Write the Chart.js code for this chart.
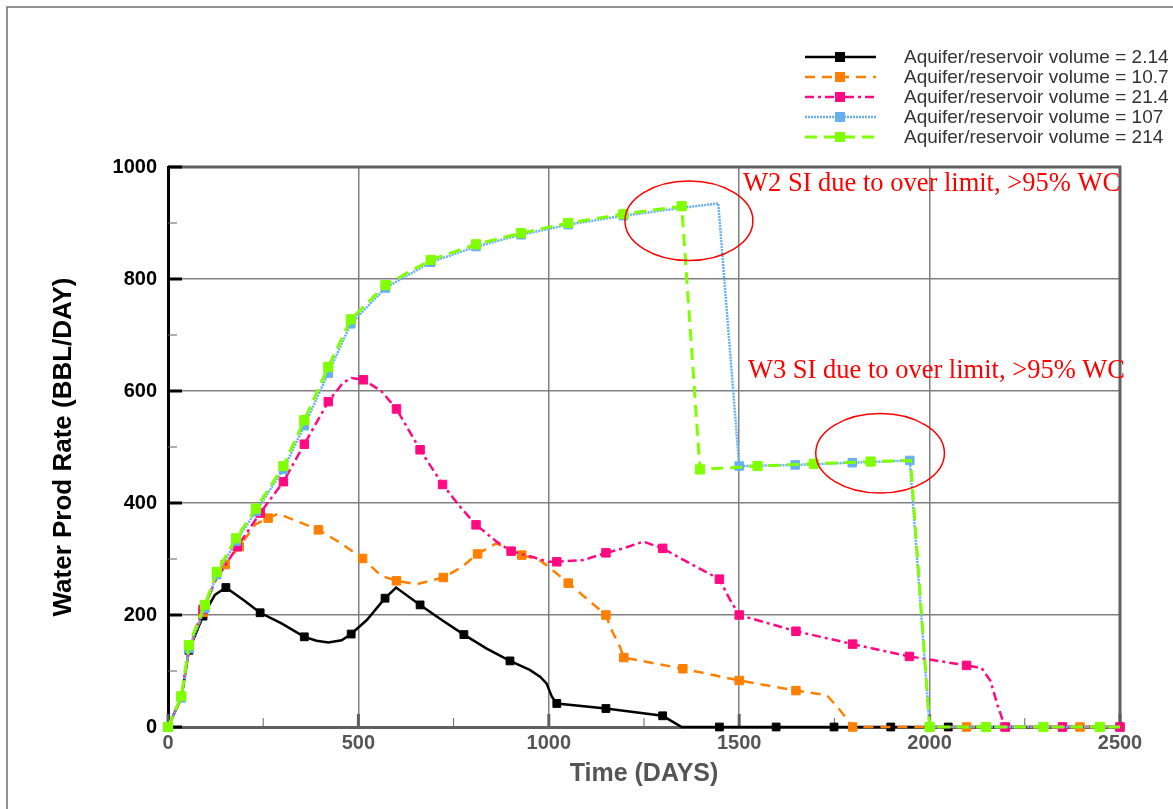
<!DOCTYPE html>
<html>
<head>
<meta charset="utf-8">
<title>Water Prod Rate</title>
<script src="https://cdn.jsdelivr.net/npm/chart.js@4.4.1/dist/chart.umd.min.js"></script>
<style>
  html, body { margin: 0; padding: 0; background: #fff; }
  #wrap { width: 1173px; height: 809px; }
</style>
</head>
<body>
<div id="wrap"><canvas id="rateChart" width="1173" height="809"></canvas></div>
<script>
// water rate (BBL/DAY) vs time (DAYS), one run per aquifer/reservoir volume ratio
// *Marks = days where the simulator printed a symbol

const blackDays  = [0, 35, 55, 92, 123, 152, 200, 242, 298, 358, 390, 421, 456, 481, 522, 570, 599, 662, 719, 777, 837, 898, 950, 977, 994, 1008, 1021, 1150, 1299, 1349, 1448, 1597, 1749, 1898, 2049, 2200, 2349, 2500];
const blackRates = [0, 52, 137, 198, 236, 249, 226, 204, 185, 161, 154, 151, 155, 166, 191, 230, 249, 218, 191, 165, 140, 118, 102, 90, 78, 54, 42, 33, 20, 0, 0, 0, 0, 0, 0, 0, 0, 0];
const blackMarks = [0, 55, 92, 152, 242, 358, 481, 570, 662, 777, 898, 1021, 1150, 1299, 1448, 1597, 1749, 1898, 2049, 2200, 2349, 2500];

const orangeDays  = [0, 35, 55, 92, 125, 150, 187, 230, 263, 290, 330, 395, 450, 511, 560, 600, 653, 723, 770, 813, 862, 929, 976, 994, 1051, 1150, 1165, 1187, 1197, 1352, 1500, 1649, 1730, 1765, 1798, 1948, 2097, 2246, 2395, 2500];
const orangeRates = [0, 52, 138, 205, 262, 290, 322, 362, 373, 381, 370, 352, 330, 301, 270, 261, 255, 267, 285, 309, 328, 307, 298, 289, 257, 200, 173, 143, 124, 104, 83, 65, 57, 30, 0, 0, 0, 0, 0, 0];
const orangeMarks = [92, 150, 187, 263, 395, 511, 600, 723, 813, 929, 1051, 1150, 1197, 1352, 1500, 1649, 1798, 2097, 2395];

const pinkDays  = [0, 35, 55, 92, 125, 182, 242, 303, 358, 421, 460, 482, 513, 560, 600, 662, 721, 771, 809, 863, 901, 960, 999, 1021, 1091, 1150, 1196, 1248, 1299, 1371, 1448, 1476, 1500, 1649, 1798, 1947, 2097, 2137, 2160, 2178, 2198, 2349, 2500];
const pinkRates = [0, 52, 140, 210, 262, 322, 382, 438, 505, 581, 615, 623, 620, 600, 568, 495, 433, 390, 361, 331, 314, 303, 295, 295, 298, 311, 319, 331, 319, 292, 264, 227, 200, 171, 148, 126, 110, 105, 82, 40, 0, 0, 0];
const pinkMarks = [92, 182, 242, 303, 358, 421, 513, 600, 662, 721, 809, 901, 1021, 1150, 1299, 1448, 1500, 1649, 1798, 1947, 2097, 2198, 2349, 2500];

const blueDays  = [0, 35, 55, 97, 128, 179, 231, 303, 358, 421, 480, 571, 690, 809, 927, 1051, 1196, 1349, 1445, 1500, 1647, 1797, 1948, 2000, 2500];
const blueRates = [0, 52, 140, 212, 272, 332, 385, 460, 538, 632, 720, 784, 830, 858, 879, 897, 913, 927, 935, 466, 468, 472, 476, 0, 0];
const blueMarks = [0, 35, 55, 97, 128, 179, 231, 303, 358, 421, 480, 571, 690, 809, 927, 1051, 1196, 1500, 1647, 1797, 1948, 2000];

const greenDays  = [0, 35, 55, 97, 128, 179, 231, 303, 358, 421, 480, 571, 690, 809, 927, 1051, 1196, 1349, 1397, 1548, 1696, 1845, 1950, 2000, 2148, 2299, 2447, 2500];
const greenRates = [0, 55, 146, 218, 277, 337, 390, 466, 548, 643, 728, 789, 834, 862, 882, 900, 916, 930, 460, 466, 470, 474, 476, 0, 0, 0, 0, 0];
const greenMarks = [0, 35, 55, 97, 128, 179, 231, 303, 358, 421, 480, 571, 690, 809, 927, 1051, 1196, 1349, 1397, 1548, 1696, 1845, 2000, 2148, 2299, 2447];

const volumeLabels = ['2.14', '10.7', '21.4', '107', '214'];
const xTicks = [0, 500, 1000, 1500, 2000, 2500];
const yTicks = [0, 200, 400, 600, 800, 1000];

// shut-in notes: [text, day, rate] and circled spots: [day, rate, half-width days, half-height rate]
const notes = [
  ['W2 SI due to over limit, >95% WC', 1510, 957],
  ['W3 SI due to over limit, >95% WC', 1523, 623]
];
const circles = [
  [1368, 904, 168, 71],
  [1870, 489, 169, 71]
];

const SANS = "'Liberation Sans', Arial, Helvetica, sans-serif";
const SERIF = "'Liberation Serif', 'Times New Roman', serif";

function series(vol, days, rates, marks, color, dash, width, radius, order) {
  return {
    label: 'Aquifer/reservoir volume = ' + vol,
    data: days.map((d, i) => ({ x: d, y: rates[i] })),
    borderColor: color,
    backgroundColor: color,
    borderWidth: width,
    borderDash: dash,
    tension: 0,
    pointStyle: 'rect',
    pointBackgroundColor: color,
    pointBorderColor: color,
    pointBorderWidth: 1,
    pointRadius: ctx => marks.includes(days[ctx.dataIndex]) ? radius : 0,
    clip: false,
    order
  };
}

const datasets = [
  series(volumeLabels[0], blackDays, blackRates, blackMarks, '#000000', [], 2.5, 5.5, 5),
  series(volumeLabels[1], orangeDays, orangeRates, orangeMarks, '#ff8000', [10, 7], 2.5, 6, 4),
  series(volumeLabels[2], pinkDays, pinkRates, pinkMarks, '#ff0a82', [9, 4, 3, 4], 2.5, 6, 3),
  series(volumeLabels[3], blueDays, blueRates, blueMarks, '#66b0f2', [2, 1], 2.5, 6, 2),
  series(volumeLabels[4], greenDays, greenRates, greenMarks, '#80ff00', [12, 7], 3, 6.5, 1)
];

// outer frame, plot box and inward tick marks
const frame = {
  id: 'frame',
  beforeDraw(chart) {
    const ctx = chart.ctx;
    ctx.save();
    ctx.strokeStyle = '#707070';
    ctx.lineWidth = 1.5;
    ctx.beginPath();
    ctx.moveTo(7, chart.height);
    ctx.lineTo(7, 7);
    ctx.lineTo(chart.width, 7);
    ctx.stroke();
    ctx.restore();
  },
  beforeDatasetsDraw(chart) {
    const { ctx, chartArea: a, scales: { x, y } } = chart;
    ctx.save();
    ctx.strokeStyle = '#606060';
    ctx.lineWidth = 3;
    ctx.beginPath();
    ctx.moveTo(a.left, a.top);
    ctx.lineTo(a.right, a.top);
    ctx.lineTo(a.right, a.bottom);
    ctx.stroke();
    for (let v = 0; v <= 1000; v += 100) {
      const py = y.getPixelForValue(v);
      const major = yTicks.includes(v);
      ctx.strokeStyle = major ? '#000' : '#606060';
      ctx.lineWidth = major ? 3 : 1;
      ctx.beginPath();
      ctx.moveTo(a.left, py);
      ctx.lineTo(a.left + (major ? 14 : 9), py);
      ctx.stroke();
    }
    for (let v = 0; v <= 2500; v += 250) {
      const px = x.getPixelForValue(v);
      const major = xTicks.includes(v);
      ctx.strokeStyle = '#606060';
      ctx.lineWidth = major ? 3 : 1;
      ctx.beginPath();
      ctx.moveTo(px, a.bottom);
      ctx.lineTo(px, a.bottom - (major ? 13 : 9));
      ctx.stroke();
    }
    ctx.restore();
  }
};

// red circles and shut-in notes
const shutIn = {
  id: 'shutIn',
  afterDatasetsDraw(chart) {
    const { ctx, scales: { x, y } } = chart;
    ctx.save();
    ctx.strokeStyle = '#ff0000';
    ctx.lineWidth = 1.5;
    circles.forEach(([d, r, hw, hh]) => {
      const cx = x.getPixelForValue(d), cy = y.getPixelForValue(r);
      const rx = x.getPixelForValue(d + hw) - cx, ry = cy - y.getPixelForValue(r + hh);
      ctx.beginPath();
      ctx.ellipse(cx, cy, rx, ry, 0, 0, Math.PI * 2);
      ctx.stroke();
    });
    ctx.fillStyle = '#ff0000';
    ctx.font = '26.5px ' + SERIF;
    ctx.textBaseline = 'alphabetic';
    notes.forEach(([t, d, r]) => ctx.fillText(t, x.getPixelForValue(d), y.getPixelForValue(r)));
    ctx.restore();
  }
};

// legend box in the top right corner: line sample, symbol, label
const sideLegend = {
  id: 'sideLegend',
  afterDraw(chart) {
    const ctx = chart.ctx;
    ctx.save();
    chart.data.datasets.forEach((ds, i) => {
      const ly = 57 + i * 20;
      ctx.strokeStyle = ds.borderColor;
      ctx.lineWidth = ds.borderWidth;
      ctx.setLineDash(ds.borderDash);
      ctx.beginPath();
      ctx.moveTo(805, ly);
      ctx.lineTo(876, ly);
      ctx.stroke();
      ctx.setLineDash([]);
      ctx.fillStyle = ds.borderColor;
      ctx.fillRect(835, ly - 5, 10, 10);
      ctx.fillStyle = '#333';
      ctx.font = '19px ' + SANS;
      ctx.textBaseline = 'middle';
      ctx.fillText(ds.label, 904, ly + 1);
    });
    ctx.restore();
  }
};

new Chart('rateChart', {
  type: 'line',
  data: { datasets },
  options: {
    responsive: false,
    devicePixelRatio: 1,
    animation: false,
    events: [],
    layout: { padding: { top: 167, right: 53, left: 0, bottom: 0 } },
    plugins: { legend: { display: false }, tooltip: { enabled: false } },
    scales: {
      x: {
        type: 'linear',
        min: 0,
        max: 2500,
        afterFit: s => { s.height = 82; },
        afterBuildTicks: s => { s.ticks = xTicks.map(v => ({ value: v })); },
        ticks: {
          callback: v => String(v),
          color: '#555',
          font: { family: SANS, size: 20, weight: 'bold' },
          padding: 4,
          maxRotation: 0
        },
        grid: { color: '#808080', lineWidth: 1.5, drawTicks: false },
        border: { color: '#606060', width: 3 },
        title: {
          display: true,
          text: 'Time (DAYS)',
          color: '#555',
          font: { family: SANS, size: 25, weight: 'bold' },
          padding: { bottom: 20 }
        }
      },
      y: {
        min: 0,
        max: 1000,
        afterFit: s => { s.width = 168; },
        afterBuildTicks: s => { s.ticks = yTicks.map(v => ({ value: v })); },
        ticks: {
          callback: v => String(v),
          color: '#000',
          font: { family: SANS, size: 20, weight: 'bold' },
          padding: 11
        },
        grid: { color: '#808080', lineWidth: 1.5, drawTicks: false },
        border: { color: '#000', width: 3 },
        title: {
          display: true,
          text: 'Water Prod Rate (BBL/DAY)',
          color: '#000',
          font: { family: SANS, size: 26, weight: 'bold' },
          padding: { top: 48 }
        }
      }
    }
  },
  plugins: [frame, shutIn, sideLegend]
});
</script>
</body>
</html>
